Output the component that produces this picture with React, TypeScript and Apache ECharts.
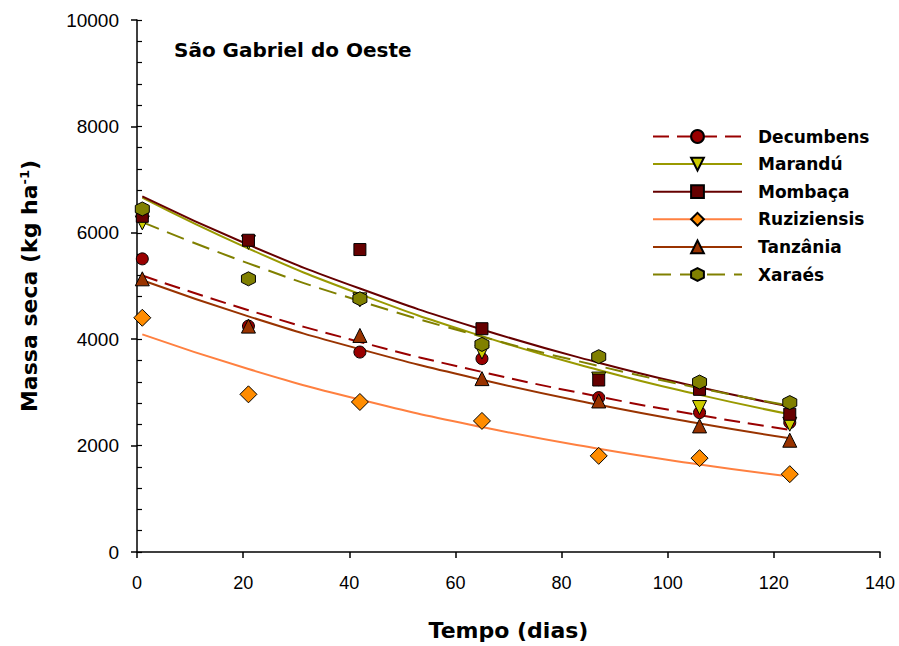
import React, { useEffect, useRef } from "react";
import * as echarts from "echarts";

const days = [1, 21, 42, 65, 87, 106, 123];

// observed points (kg/ha)
const decumbensObs = [5510, 4246, 3758, 3634, 2902, 2621, 2433];
const maranduObs = [6186, 5820, 4740, 3758, 3250, 2715, 2402];
const mombacaObs = [6310, 5860, 5685, 4197, 3233, 3058, 2589];
const ruziziensisObs = [4403, 2964, 2820, 2464, 1807, 1764, 1463];
const tanzaniaObs = [5135, 4246, 4071, 3259, 2839, 2370, 2101];
const xaraesObs = [6448, 5135, 4760, 3902, 3671, 3195, 2809];

// fitted curves at the same days
const decumbensFit = [5197, 4545, 3949, 3385, 2921, 2572, 2295];
const maranduFit = [6660, 5704, 4848, 4057, 3421, 2953, 2589];
const mombacaFit = [6686, 5776, 4952, 4183, 3559, 3096, 2733];
const ruziziensisFit = [4090, 3439, 2866, 2348, 1940, 1646, 1420];
const tanzaniaFit = [5108, 4429, 3813, 3236, 2766, 2415, 2139];
const xaraesFit = [6200, 5426, 4718, 4047, 3496, 3079, 2750];

const names = ["Decumbens", "Marandú", "Mombaça", "Ruziziensis", "Tanzânia", "Xaraés"];
const xTicks = [0, 20, 40, 60, 80, 100, 120, 140];
const yLabelTicks = [0, 2000, 4000, 6000, 8000, 10000];

const HEX = "path://M0,-10 L8.66,-5 L8.66,5 L0,10 L-8.66,5 L-8.66,-5 Z";

const styles = [
  { line: "#990000", fill: "#990000", dash: [16, 8], symbol: "circle", size: 12, rot: 0 },
  { line: "#999900", fill: "#cccc00", dash: "solid", symbol: "triangle", size: 14, rot: 180 },
  { line: "#660000", fill: "#660000", dash: "solid", symbol: "rect", size: 12, rot: 0 },
  { line: "#ff8040", fill: "#ff8c00", dash: "solid", symbol: "diamond", size: 17, rot: 0 },
  { line: "#993300", fill: "#993300", dash: "solid", symbol: "triangle", size: 14, rot: 0 },
  { line: "#808000", fill: "#808000", dash: [18, 9], symbol: HEX, size: 14, rot: 0 },
];

const obsSets = [decumbensObs, maranduObs, mombacaObs, ruziziensisObs, tanzaniaObs, xaraesObs];
const fitSets = [decumbensFit, maranduFit, mombacaFit, ruziziensisFit, tanzaniaFit, xaraesFit];

const BOLD = "DejaVu Sans";

export default function App() {
  const ref = useRef<HTMLDivElement>(null);
  useEffect(() => {
    if (!ref.current) return;
    const chart = echarts.init(ref.current, null, { renderer: "svg" });
    const series: any[] = [];
    names.forEach((n, i) => {
      const s = styles[i];
      series.push({
        name: n,
        type: "line",
        smooth: true,
        showSymbol: false,
        symbol: s.symbol,
        symbolSize: s.size,
        symbolRotate: s.rot,
        itemStyle: { color: s.fill, borderColor: "#000", borderWidth: 1 },
        lineStyle: { color: s.line, width: 2, type: s.dash },
        data: days.map((d, k) => [d, fitSets[i][k]]),
        z: 2,
      });
    });
    names.forEach((n, i) => {
      const s = styles[i];
      series.push({
        name: n,
        type: "scatter",
        symbol: s.symbol,
        symbolSize: s.size,
        symbolRotate: s.rot,
        itemStyle: { color: s.fill, borderColor: "#000", borderWidth: 1, opacity: 1 },
        data: days.map((d, k) => [d, obsSets[i][k]]),
        z: 3 + i,
      });
    });
    chart.setOption({
      animation: false,
      backgroundColor: "#fff",
      title: {
        text: "São Gabriel do Oeste",
        left: 169,
        top: 35,
        textStyle: { fontFamily: BOLD, fontWeight: "bold", fontSize: 20, color: "#000" },
      },
      legend: {
        data: names,
        orient: "vertical",
        left: 647,
        top: 123,
        itemWidth: 89,
        itemHeight: 16,
        itemGap: 10.6,
        textStyle: {
          fontFamily: BOLD,
          fontWeight: "bold",
          fontSize: 17,
          color: "#000",
          padding: [0, 0, 0, 11],
        },
      },
      grid: { left: 137, top: 20, right: 19, bottom: 93 },
      xAxis: {
        type: "value",
        min: 0,
        max: 140,
        interval: 20,
        name: "Tempo (dias)",
        nameLocation: "middle",
        nameGap: 67,
        nameTextStyle: { fontFamily: BOLD, fontWeight: "bold", fontSize: 22, color: "#000" },
        axisLine: { lineStyle: { color: "#000", width: 1.5 } },
        axisTick: { show: true, length: 6, lineStyle: { color: "#000", width: 1.5 } },
        axisLabel: {
          margin: 22,
          fontFamily: "Liberation Sans Narrow, Liberation Sans",
          fontSize: 18,
          color: "#000",
          formatter: (v: number) => (xTicks.includes(v) ? String(v) : ""),
        },
        splitLine: { show: false },
      },
      yAxis: [
        {
          type: "value",
          min: 0,
          max: 10000,
          interval: 2000,
          name: "Massa seca (kg ha{sup|-1})",
          nameLocation: "middle",
          nameGap: 96,
          nameTextStyle: {
            fontFamily: BOLD,
            fontWeight: "bold",
            fontSize: 22,
            color: "#000",
            rich: {
              sup: {
                fontFamily: BOLD,
                fontWeight: "bold",
                fontSize: 13,
                verticalAlign: "top",
                padding: [0, 0, 10, 0],
                color: "#000",
              },
            },
          },
          axisLine: { show: true, lineStyle: { color: "#000", width: 1.5 } },
          axisTick: { show: true, length: 6, lineStyle: { color: "#000", width: 1.5 } },
          axisLabel: {
            margin: 18,
            fontFamily: "Liberation Sans",
            fontSize: 19,
            color: "#000",
            formatter: (v: number) => (yLabelTicks.includes(v) ? String(v) : ""),
          },
          splitLine: { show: false },
        },
        {
          type: "value",
          position: "left",
          min: 0,
          max: 10000,
          interval: 400,
          axisLine: { show: false },
          axisTick: { show: true, inside: true, length: 5, lineStyle: { color: "#000", width: 1.2 } },
          axisLabel: { show: false },
          splitLine: { show: false },
        },
      ],
      series,
    });
    return () => chart.dispose();
  }, []);
  return <div ref={ref} style={{ width: 899, height: 646, position: "absolute", left: 0, top: 0 }} />;
}
